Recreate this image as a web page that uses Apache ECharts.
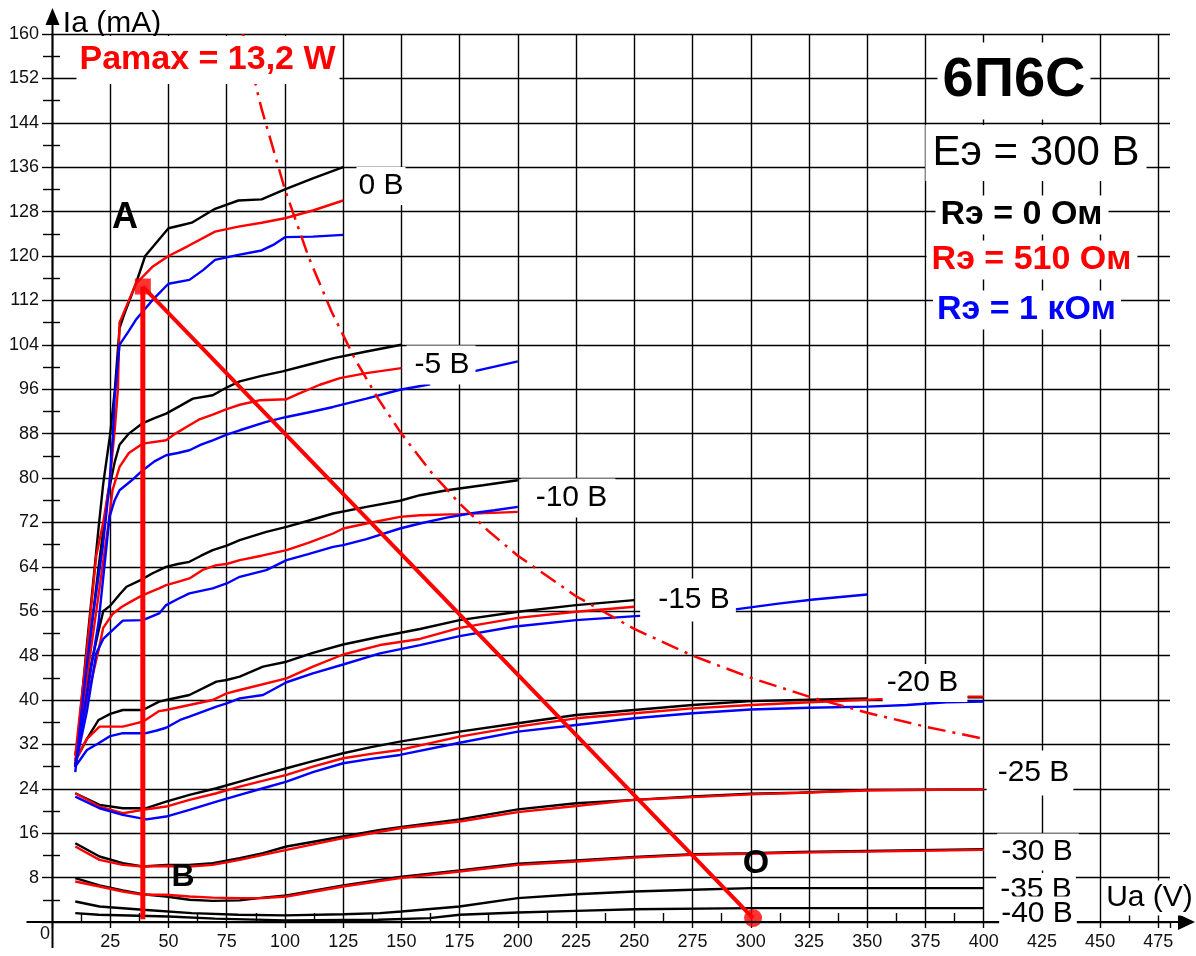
<!DOCTYPE html>
<html>
<head>
<meta charset="utf-8">
<title>6П6С</title>
<script src="https://cdn.jsdelivr.net/npm/echarts@6.0.0/dist/echarts.min.js"></script>
<style>
html,body{margin:0;padding:0;background:#fff;}
#chart{width:1196px;height:956px;}
</style>
</head>
<body>
<div id="chart"></div>
<script>
// ---------- axis scales ----------
const X_MIN = 0, X_MAX = 480, X_STEP = 25, X_LAST_LABEL = 475;
const Y_MIN = 0, Y_MAX = 160, Y_STEP = 8;

// ---------- anode characteristics: [Ua (V), Ia (mA)] ----------
// Ug = 0 V
const g0_black = [[10,28],[15,50],[20,71],[22,79],[25,88],[27,96],[29,107],[31,109.5],[36,115],[40,120],[50,125],[55,125.5],[60,126],[70,128.5],[80,130],[90,130.2],[100,132],[112,134],[125,136]];
const g0_red   = [[10,30],[15,49],[19,66],[22,72],[24.7,79],[27,89],[28.3,96],[29,108],[33,112],[36,115],[43,118],[50,120],[58,121.7],[70,124.4],[80,125.3],[90,126],[100,126.8],[112,128.2],[125,130]];
const g0_blue  = [[10,27],[14,43],[17.5,55],[21.8,67.6],[24.7,79],[26.1,87.4],[26.9,94.6],[29,104],[33,106.5],[36,108.5],[43,112],[50,115],[59,115.7],[65,117.5],[70,119.3],[80,120.2],[90,121],[95,122],[100,123.4],[112,123.5],[125,123.8]];
// Ug = -5 V
const g5_black = [[10,28],[15,46],[20,64],[24,77],[27,83],[29,86],[33,88],[39,89.9],[44,90.8],[49,91.6],[55,93],[60.5,94.3],[69,94.9],[75,96.3],[80.6,97.4],[90,98.4],[99,99.2],[110,100.4],[121,101.6],[135,102.8],[150,104]];
const g5_red   = [[10,29],[15,44],[20,59],[24,71],[26,77.8],[29,82],[33,84.5],[39,86.2],[49,86.8],[53,88],[57.7,89.2],[63,90.5],[69,91.4],[75,92.4],[80.6,93.2],[89,94],[100.7,94.2],[106,95.2],[115,96.8],[123.6,98],[135,98.9],[150,99.8]];
const g5_blue  = [[10,28],[15,41],[20,54],[24.7,73],[26.9,76],[29,77.8],[34,79.5],[39,81.4],[44,83],[49,84.1],[54,84.5],[59,85],[64,86],[69,86.8],[75,87.8],[80.6,88.6],[92,90.1],[100.7,91],[110,91.8],[120.7,92.8],[135,94.3],[149.4,95.9],[162.4,96.9]];
const g5_blue_tail = [[181,99.2],[200,101]];
// Ug = -10 V
const g10_black = [[10,30],[15,43],[20,52.5],[22,56],[25,57],[29,59],[32,60.4],[38,61.6],[43,62.8],[49,64],[54,64.5],[59,64.9],[64,66],[69,67],[75,67.8],[80.6,68.8],[92,70.3],[100.7,71.2],[110,72.3],[120.7,73.6],[135,74.8],[149.4,75.9],[158,76.9],[169.5,77.8],[185,78.7],[200,79.6]];
const g10_red   = [[10,29],[15,40],[20,49],[22,53],[26,55.5],[30,56.8],[35,58],[39,58.9],[46,60.1],[49,60.7],[54,61.3],[59,61.9],[65,63.5],[70.6,64.3],[75,64.5],[80.6,65.2],[90,66],[100.7,67],[110,68.3],[120.7,70],[125,70.9],[135,71.8],[149.4,73],[158,73.3],[175,73.5],[200,73.9]];
const g10_blue  = [[10,28],[15,38],[19,48.4],[22,51],[26,52.6],[30.4,54.3],[39,54.4],[46,55.6],[49,57.1],[54,58.2],[59,59.2],[69,60.1],[75,61],[80.6,62.2],[92,63.4],[100.7,65.2],[110,66.3],[120.7,67.6],[125,67.9],[135,69],[149.4,70.9],[158,71.8],[170,72.9],[179.5,73.6],[190,74.2],[200,74.8]];
// Ug = -15 V
const g15_black = [[10,29],[15,33],[20,36.4],[25,37.5],[30.4,38.2],[39,38.2],[46,39.7],[49,40],[59,40.9],[70.6,43.3],[75,43.6],[80.6,44.2],[90.6,46],[100.7,46.9],[112,48.5],[125,50],[140.8,51.4],[158,52.8],[175,54.4],[200,55.9],[225,57.1],[250,58]];
const g15_red   = [[10,29],[15,33],[20.4,35.2],[30.4,35.2],[39,36.1],[46,38],[49,38.2],[59,39.1],[69,40],[75,41.2],[80.6,41.8],[100.7,43.9],[112,46],[125,48.2],[140.8,49.9],[158,51],[175,53],[200,54.8],[225,55.9],[250,56.8]];
const g15_blue  = [[10,28],[15,31],[20,32.2],[25,33.5],[30,34],[40,34],[45,34.5],[49,35],[55,36.4],[59,37],[70.6,38.8],[75,39.4],[80.6,40.3],[90.6,40.9],[100.7,43.2],[112,44.8],[125,46.4],[140.8,48.4],[158,49.9],[175,51.5],[198,53.2],[225,54.4],[257,55.3]];
const g15_blue_tail = [[291,56.2],[312.7,57.4],[327,58.1],[350,59]];
// Ug = -20 V
const g20_black = [[10,23.2],[20.4,21.1],[30.4,20.5],[40.5,20.5],[49,21.7],[59,22.9],[70.6,24.1],[80.6,25.3],[90.6,26.5],[100.7,27.7],[112,29],[125,30.4],[137,31.5],[149.4,32.5],[175,34.3],[200,35.8],[225,37.3],[250,38.2],[275,39.1],[300,39.8],[321,40],[350,40.3]];
const g20_black_tail = [[393,40.5],[400,40.5]];
const g20_red   = [[10,23.2],[20.4,20.8],[30.4,19.6],[39,20.2],[49,20.8],[59,22],[70.6,23.2],[80.6,24.4],[100.7,26.5],[112,28],[125,29.5],[137,30.3],[149.4,31],[175,33.4],[200,35.2],[225,36.7],[250,37.6],[275,38.5],[300,39.1],[321,39.5],[358,40.2]];
const g20_red_tail = [[393,40.6],[400,40.6]];
const g20_blue  = [[10,22.6],[20.4,20.5],[30.4,19.3],[40.5,18.5],[49,19],[59,20.2],[70.6,21.7],[80.6,22.9],[90.6,24.1],[100.7,25.3],[112,27],[125,28.6],[137,29.4],[149.4,30.1],[175,32.3],[200,34.3],[225,35.5],[250,36.7],[275,37.6],[300,38.3],[325,38.6],[350,38.8],[367,39.1],[384,39.6],[400,39.7]];
// Ug = -25 V
const g25_black = [[10,14.2],[20.4,11.8],[30.4,10.6],[39,10],[49,10.3],[59,10.3],[69,10.6],[80.6,11.5],[90.6,12.4],[100.7,13.6],[125,15.4],[140.8,16.6],[149.4,17.1],[175,18.5],[200,20.3],[225,21.4],[250,22],[275,22.6],[300,23.1],[321,23.3],[350,23.8],[400,23.9]];
const g25_red   = [[10,13.6],[20.4,11.2],[30.4,10.3],[39,10],[49,10.1],[59,10],[69,10.3],[80.6,11.2],[100.7,13],[125,15.1],[149.4,16.9],[175,18.1],[200,19.8],[225,20.9],[250,22],[275,22.5],[300,23],[350,23.7],[400,23.9]];
// Ug = -30 V
const g30_black = [[10,7.9],[20.4,6.6],[30.4,5.7],[39,5],[49,4.6],[59,4],[69,3.8],[80.6,3.9],[90.6,4.4],[100.7,4.8],[125,6.6],[149.4,8.1],[175,9.3],[200,10.5],[225,11.1],[250,11.7],[275,12.2],[300,12.4],[321,12.6],[400,13.1]];
const g30_red   = [[10,7.3],[20.4,6.4],[30.4,5.5],[39,4.9],[49,4.9],[59,4.6],[69,4.4],[80.6,4.3],[90.6,4.3],[100.7,4.6],[125,6.4],[149.4,7.9],[175,9.1],[200,10.3],[225,10.9],[250,11.6],[275,12.1],[300,12.3],[321,12.5],[400,13]];
// Ug = -35 V and -40 V
const g35_black = [[10,3.7],[20.4,2.8],[39,2.2],[60,1.6],[80,1.3],[100,1.2],[125,1.4],[140.8,1.6],[150,1.9],[175,2.8],[200,4.3],[225,5],[250,5.5],[275,5.8],[300,6.1],[400,6.1]];
const g40_black = [[10,1.6],[20,1.3],[50,1],[70,0.6],[100,0.3],[140,0.4],[162,0.7],[175,1.3],[200,1.7],[225,2],[250,2.3],[300,2.5],[400,2.5]];

// ---------- Pa max = 13.2 W curve ----------
const pmax_curve = [[82,160],[90,146.5],[100,132],[110,120],[120,110],[130,101.5],[140,94.3],[150,88],[162.5,81.2],[175,75.4],[187.5,70.4],[200,66],[225,58.7],[250,52.8],[275,48],[300,44],[325,40.6],[350,37.7],[375,35.2],[400,33]];

// ---------- load line / working points ----------
const point_A = [39, 114.5];
const point_O = [301, 0.7];
const point_B_foot = [39, 0.5];

const BLACK = '#000000', RED = '#ff0000', BLUE = '#0000ff';
const FONT = '"Liberation Sans", Arial, sans-serif';
const GRID_W = 1.4;

const curveList = [
  [g0_black, BLACK], [g5_black, BLACK], [g10_black, BLACK], [g15_black, BLACK], [g20_black, BLACK], [g20_black_tail, BLACK],
  [g25_black, BLACK], [g30_black, BLACK], [g35_black, BLACK], [g40_black, BLACK],
  [g0_red, RED], [g5_red, RED], [g10_red, RED], [g15_red, RED], [g20_red, RED], [g20_red_tail, RED], [g25_red, RED], [g30_red, RED],
  [g0_blue, BLUE], [g5_blue, BLUE], [g5_blue_tail, BLUE], [g10_blue, BLUE], [g15_blue, BLUE], [g15_blue_tail, BLUE], [g20_blue, BLUE]
];

const series = curveList.map(([d, c]) => ({
  type: 'line', data: d, symbol: 'none', showSymbol: false, silent: true,
  lineStyle: { color: c, width: 2.4 }, itemStyle: { color: c }, z: 2
}));
series.push({
  type: 'line', data: pmax_curve, symbol: 'none', silent: true, smooth: false,
  lineStyle: { color: RED, width: 2.5, type: [18, 7, 3, 7] }, z: 3
});
series.push({
  type: 'line', data: [point_A, point_O], symbol: 'none', silent: true,
  lineStyle: { color: RED, width: 4 }, z: 4
});
series.push({
  type: 'line', data: [point_A, point_B_foot], symbol: 'none', silent: true,
  lineStyle: { color: RED, width: 5 }, z: 4
});
series.push({
  type: 'scatter', data: [point_A], symbol: 'rect', symbolSize: 16, silent: true,
  itemStyle: { color: RED }, z: 5
});
series.push({
  type: 'scatter', data: [point_O], symbol: 'circle', symbolSize: 18, silent: true,
  itemStyle: { color: RED }, z: 5
});

const chart = echarts.init(document.getElementById('chart'), null, { renderer: 'canvas' });

const option = {
  animation: false,
  backgroundColor: '#ffffff',
  grid: { left: 52, right: 26, top: 34, bottom: 34, containLabel: false, outerBoundsMode: 'none' },
  xAxis: [
    {
      type: 'value', min: X_MIN, max: X_MAX, interval: X_STEP, position: 'bottom',
      axisLine: { show: false },
      axisTick: { show: true, length: 6, lineStyle: { color: '#000', width: GRID_W } },
      axisLabel: {
        show: true, fontSize: 18, fontFamily: FONT, color: '#111', margin: 11,
        formatter: v => (v === 0 || v > X_LAST_LABEL) ? '' : String(v)
      },
      splitLine: { show: true, showMaxLine: false, lineStyle: { color: '#000', width: GRID_W } },
      silent: true
    },
    {
      type: 'value', min: X_MIN, max: X_MAX, interval: X_STEP, position: 'bottom',
      axisLine: { show: false },
      axisTick: { show: false, inside: true },
      axisLabel: { show: false },
      splitLine: { show: false },
      minorTick: { show: true, splitNumber: 2, length: 9, lineStyle: { color: '#000', width: GRID_W } },
      silent: true
    }
  ],
  yAxis: [
    {
      type: 'value', min: Y_MIN, max: Y_MAX, interval: Y_STEP, position: 'left',
      axisLine: { show: false },
      axisTick: { show: true, length: 10, lineStyle: { color: '#000', width: GRID_W } },
      minorTick: { show: true, splitNumber: 2, length: 9, lineStyle: { color: '#000', width: GRID_W } },
      axisLabel: {
        show: true, fontSize: 18, fontFamily: FONT, color: '#111', margin: 13,
        formatter: v => v === 0 ? '' : String(v)
      },
      splitLine: { show: true, lineStyle: { color: '#000', width: GRID_W } },
      silent: true
    },
    {
      type: 'value', min: Y_MIN, max: Y_MAX, interval: Y_STEP, position: 'left',
      axisLine: { show: false },
      axisTick: { show: false, inside: true },
      axisLabel: { show: false },
      splitLine: { show: false },
      minorTick: { show: true, splitNumber: 2, length: 8, lineStyle: { color: '#000', width: GRID_W } },
      silent: true
    }
  ],
  series: series
};
chart.setOption(option);

// ---------- annotations ----------
function txt(text, x, y, font, color, pad) {
  const st = {
    text: text, font: font + ' ' + FONT, fill: color || '#000',
    align: 'center', verticalAlign: 'middle'
  };
  if (pad) { st.backgroundColor = '#ffffff'; st.padding = pad; }
  return { type: 'text', x: x, y: y, z: 100, silent: true, style: st };
}

const o = chart.convertToPixel({ xAxisIndex: 0, yAxisIndex: 0 }, [X_MIN, Y_MIN]);
const ox = Math.round(o[0]) + 0.5, oy = Math.round(o[1]);

const elements = [
  // axes with arrows
  { type: 'line', z: 50, silent: true, shape: { x1: ox - 26, y1: oy, x2: 1180, y2: oy }, style: { stroke: '#000', lineWidth: 2 } },
  { type: 'polygon', z: 50, silent: true, shape: { points: [[1178, oy - 8], [1195, oy], [1178, oy + 8]] }, style: { fill: '#000' } },
  { type: 'line', z: 50, silent: true, shape: { x1: ox, y1: oy + 26, x2: ox, y2: 22 }, style: { stroke: '#000', lineWidth: 2 } },
  { type: 'polygon', z: 50, silent: true, shape: { points: [[ox - 7, 25], [ox, 8], [ox + 7, 25]] }, style: { fill: '#000' } },

  txt('0', 45, 934, '18px', '#111'),
  txt('Ia (mA)', 112, 24, '30px', '#000'),
  txt('Pamax = 13,2 W', 208, 60, 'bold 34px', RED, [9, 4, 5, 3]),
  txt('A', 125, 218, 'bold 36px', '#000'),
  txt('B', 183, 877, 'bold 32px', '#000'),
  txt('O', 756, 864, 'bold 34px', '#000'),

  txt('0 В', 381, 186, '30px', '#000', [4, 2, 4, 2]),
  txt('-5 В', 441, 365, '30px', '#000', [5, 6, 4, 8]),
  txt('-10 В', 568, 498, '30px', '#000', [4, 8, 5, 15]),
  txt('-15 В', 688, 600, '30px', '#000', [8, 6, 5, 18]),
  txt('-20 В', 925, 683, '30px', '#000', [8, 9, 0, 4]),
  txt('-25 В', 1030, 773, '30px', '#000', [11, 4, 4, 11]),
  txt('-30 В', 1038, 852, '30px', '#000', [4, 6, 3, 4]),
  txt('-35 В', 1036, 890, '30px', '#000', [2, 4, 2, 4]),
  txt('-40 В', 1038, 914, '30px', '#000', [2, 4, 3, 2]),
  txt('Ua (V)', 1150, 898, '30px', '#000', [3, 3, 2, 2]),

  txt('6П6С', 1014, 81, 'bold 56px', '#000', [13, 5, 8, 5]),
  txt('Eэ = 300 В', 1036, 153, '42px', '#000', [8, 7, 6, 7]),
  txt('Rэ = 0 Ом', 1022, 215, 'bold 34px', '#000', [3, 6, 2, 5]),
  txt('Rэ = 510 Ом', 1032, 260, 'bold 34px', RED, [3, 6, 2, 5]),
  txt('Rэ = 1 кОм', 1027, 310, 'bold 34px', BLUE, [3, 5, 2, 4])
];

chart.setOption({ graphic: { elements: elements } });
</script>
</body>
</html>
